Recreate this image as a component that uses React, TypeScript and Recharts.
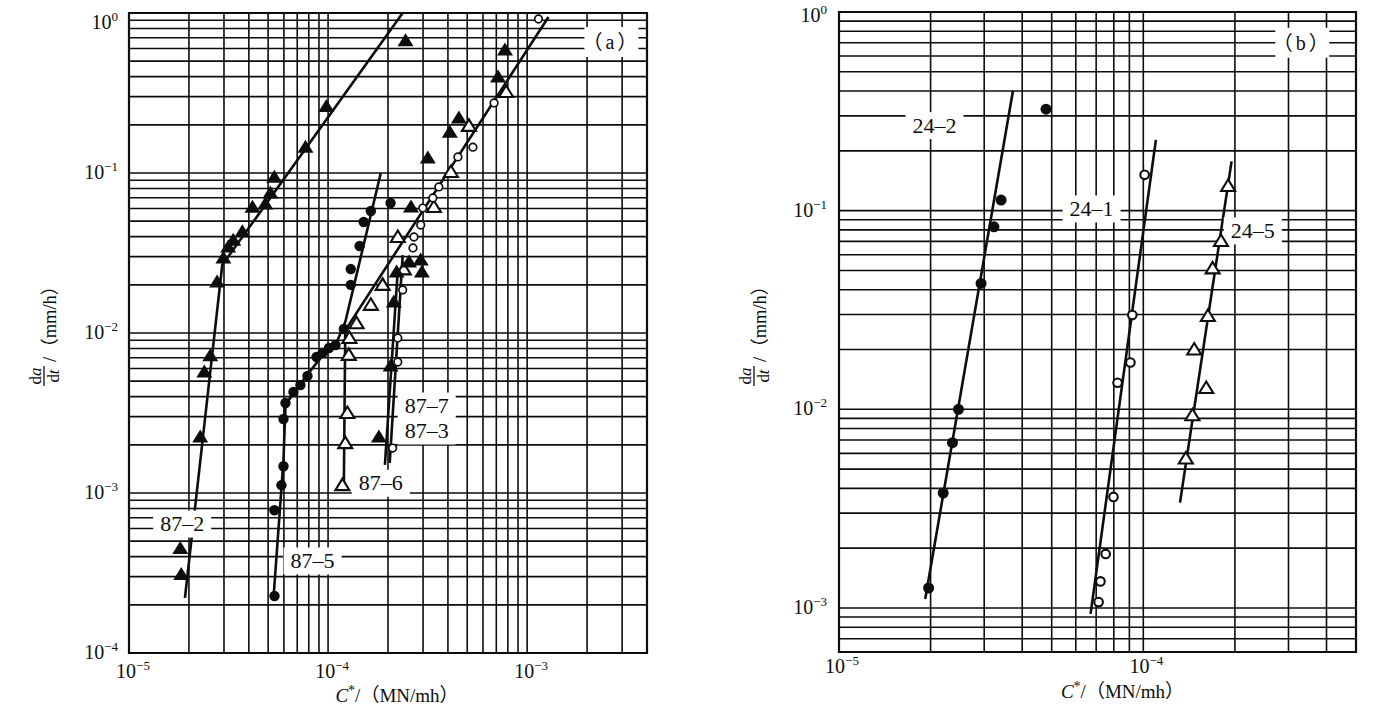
import {
  ScatterChart,
  Scatter,
  XAxis,
  YAxis,
  CartesianGrid,
  ReferenceArea,
  ReferenceDot,
} from 'recharts'

const INK = '#0d0d0d'
const SERIF = "'Liberation Serif', 'Noto Sans CJK SC', serif"

type Pair = [number, number]

// ---- axes (log grids) ----
const A_X_TICKS = [
  1e-5, 2e-5, 3e-5, 4e-5, 5e-5, 6e-5, 7e-5, 8e-5, 9e-5,
  1e-4, 2e-4, 3e-4, 4e-4, 5e-4, 6e-4, 7e-4, 8e-4, 9e-4,
  1e-3, 2e-3, 3e-3, 4e-3,
]
const A_Y_TICKS = [
  1e-4, 2e-4, 3e-4, 4e-4, 5e-4, 6e-4, 7e-4, 8e-4, 9e-4,
  1e-3, 2e-3, 3e-3, 4e-3, 5e-3, 6e-3, 7e-3, 8e-3, 9e-3,
  1e-2, 2e-2, 3e-2, 4e-2, 5e-2, 6e-2, 7e-2, 8e-2, 9e-2,
  0.1, 0.2, 0.3, 0.4, 0.5, 0.6, 0.7, 0.8, 0.9, 1,
]
const B_X_TICKS = [
  1e-5, 2e-5, 3e-5, 4e-5, 5e-5, 6e-5, 7e-5, 8e-5, 9e-5,
  1e-4, 2e-4, 3e-4, 4e-4, 5e-4,
]
const B_Y_TICKS = [
  6e-4, 7e-4, 8e-4, 9e-4,
  1e-3, 2e-3, 3e-3, 4e-3, 5e-3, 6e-3, 7e-3, 8e-3, 9e-3,
  1e-2, 2e-2, 3e-2, 4e-2, 5e-2, 6e-2, 7e-2, 8e-2, 9e-2,
  0.1, 0.2, 0.3, 0.4, 0.5, 0.6, 0.7, 0.8, 0.9, 1,
]

// ---- panel (a) ----
const A87_2_PTS: Pair[] = [
  [1.81e-5, 4.5e-4], [1.83e-5, 3.1e-4], [2.28e-5, 2.24e-3], [2.39e-5, 5.7e-3],
  [2.56e-5, 7.2e-3], [2.77e-5, 2.08e-2], [2.98e-5, 2.94e-2], [3.15e-5, 3.45e-2],
  [3.34e-5, 3.8e-2], [3.71e-5, 4.3e-2], [4.17e-5, 6.1e-2], [4.84e-5, 6.4e-2],
  [5.13e-5, 7.5e-2], [5.37e-5, 9.4e-2], [7.7e-5, 0.145], [9.8e-5, 0.26],
  [2.45e-4, 0.67],
]
const A87_2_LINE: Pair[] = [[1.91e-5, 2.21e-4], [2.94e-5, 2.66e-2], [2.37e-4, 1.0]]

const A87_5_PTS: Pair[] = [
  [5.38e-5, 2.27e-4], [5.38e-5, 7.8e-4], [5.83e-5, 1.12e-3], [5.97e-5, 1.47e-3],
  [5.97e-5, 2.9e-3], [6.11e-5, 3.65e-3], [6.7e-5, 4.28e-3], [7.26e-5, 4.73e-3],
  [7.88e-5, 5.39e-3], [8.75e-5, 7.08e-3], [9.38e-5, 7.5e-3], [1.01e-4, 8.06e-3],
  [1.09e-4, 8.41e-3], [1.2e-4, 1.06e-2], [1.3e-4, 2.0e-2], [1.3e-4, 2.51e-2],
  [1.44e-4, 3.5e-2], [1.51e-4, 4.94e-2], [1.64e-4, 5.79e-2], [2.06e-4, 6.49e-2],
]
const A87_5_LINE: Pair[] = [
  [5.31e-5, 2.14e-4], [5.97e-5, 1.61e-3], [6.11e-5, 3.55e-3], [6.86e-5, 4.4e-3],
  [9.16e-5, 6.98e-3], [1.09e-4, 8.41e-3], [1.22e-4, 1.17e-2], [1.84e-4, 0.1],
]

const A87_6_PTS: Pair[] = [
  [1.18e-4, 1.12e-3], [1.22e-4, 2.05e-3], [1.25e-4, 3.16e-3], [1.27e-4, 7.3e-3],
  [1.28e-4, 9.3e-3], [1.39e-4, 1.15e-2], [1.64e-4, 1.5e-2], [1.88e-4, 2.0e-2],
  [2.24e-4, 3.98e-2], [2.4e-4, 2.5e-2], [3.4e-4, 6.13e-2], [4.14e-4, 0.1015],
  [5.1e-4, 0.197], [7.84e-4, 0.321],
]
const A87_6_LINE: Pair[] = [[1.2e-4, 1.09e-3], [1.22e-4, 1.04e-2], [1.28e-3, 0.944]]

const A87_3_PTS: Pair[] = [
  [2.11e-4, 1.91e-3], [2.24e-4, 6.59e-3], [2.24e-4, 9.3e-3], [2.37e-4, 1.86e-2],
  [2.67e-4, 3.4e-2], [2.7e-4, 3.98e-2], [2.92e-4, 4.73e-2], [2.99e-4, 6.04e-2],
  [3.36e-4, 6.98e-2], [3.6e-4, 8.18e-2], [4.49e-4, 0.126], [5.34e-4, 0.145],
  [6.82e-4, 0.274], [1.14e-3, 0.917],
]
const A87_3_LINE: Pair[] = [[2.04e-4, 1.54e-3], [2.37e-4, 3.07e-2]]

const A87_7_PTS: Pair[] = [
  [1.8e-4, 2.24e-3], [2.06e-4, 6.22e-3], [2.14e-4, 1.56e-2], [2.21e-4, 2.41e-2],
  [2.55e-4, 2.78e-2], [2.92e-4, 2.86e-2], [2.96e-4, 2.41e-2], [2.61e-4, 6.13e-2],
  [3.17e-4, 0.124], [4.09e-4, 0.18], [4.54e-4, 0.221], [7.14e-4, 0.398],
  [7.74e-4, 0.587],
]
const A87_7_LINE: Pair[] = [[1.93e-4, 1.5e-3], [2.24e-4, 2.48e-2]]

const A_LABELS = [
  { x: 1.85e-5, y: 6.4e-4, text: '87–2' },
  { x: 8.36e-5, y: 3.76e-4, text: '87–5' },
  { x: 1.84e-4, y: 1.15e-3, text: '87–6' },
  { x: 3.13e-4, y: 3.5e-3, text: '87–7' },
  { x: 3.13e-4, y: 2.44e-3, text: '87–3' },
  { x: 2.65e-3, y: 0.659, text: '（a）' },
]

// ---- panel (b) ----
const B24_2_PTS: Pair[] = [
  [1.97e-5, 1.26e-3], [2.2e-5, 3.79e-3], [2.36e-5, 6.79e-3], [2.47e-5, 1.0e-2],
  [2.93e-5, 4.3e-2], [3.23e-5, 8.29e-2], [3.41e-5, 0.113], [4.79e-5, 0.324],
]
const B24_2_LINE: Pair[] = [[1.92e-5, 1.11e-3], [3.73e-5, 0.401]]

const B24_1_PTS: Pair[] = [
  [1.01e-4, 0.1515], [9.2e-5, 2.98e-2], [9.07e-5, 1.72e-2], [8.23e-5, 1.36e-2],
  [7.98e-5, 3.62e-3], [7.52e-5, 1.87e-3], [7.23e-5, 1.36e-3], [7.13e-5, 1.07e-3],
]
const B24_1_LINE: Pair[] = [[6.71e-5, 9.34e-4], [1.1e-4, 0.227]]

const B24_5_PTS: Pair[] = [
  [1.9e-4, 0.133], [1.8e-4, 7.03e-2], [1.69e-4, 5.12e-2], [1.63e-4, 2.95e-2],
  [1.47e-4, 2.0e-2], [1.61e-4, 1.28e-2], [1.45e-4, 9.34e-3], [1.38e-4, 5.65e-3],
]
const B24_5_LINE: Pair[] = [[1.32e-4, 3.39e-3], [1.95e-4, 0.177]]

const B_LABELS = [
  { x: 2.06e-5, y: 0.268, text: '24–2' },
  { x: 6.76e-5, y: 0.102, text: '24–1' },
  { x: 2.29e-4, y: 7.91e-2, text: '24–5' },
  { x: 3.33e-4, y: 0.7, text: '（b）' },
]

const pts = (arr: Pair[]) => arr.map(([x, y]) => ({ x, y }))

// ---- marks ----
const filledTri = (p: any) => (
  <polygon
    points={`${p.cx},${p.cy - 7.5} ${p.cx - 8},${p.cy + 5.5} ${p.cx + 8},${p.cy + 5.5}`}
    fill={INK}
  />
)
const openTri = (p: any) => (
  <polygon
    points={`${p.cx},${p.cy - 6.5} ${p.cx - 7},${p.cy + 5} ${p.cx + 7},${p.cy + 5}`}
    fill="#fff"
    stroke={INK}
    strokeWidth={2.1}
  />
)
const dot = (r: number) => (p: any) => <circle cx={p.cx} cy={p.cy} r={r} fill={INK} />
const ring = (r: number, w: number) => (p: any) => (
  <circle cx={p.cx} cy={p.cy} r={r} fill="#fff" stroke={INK} strokeWidth={w} />
)
const noDot = () => <g />

const labelShape = (text: string) => (p: any) => {
  const panel = text.startsWith('（')
  const w = panel ? 54 : 58
  const h = panel ? 30 : 27
  return (
    <g>
      <rect x={p.cx - w / 2} y={p.cy - h / 2} width={w} height={h} fill="#fff" />
      <text
        x={p.cx}
        y={p.cy + 7}
        textAnchor="middle"
        fontFamily={SERIF}
        fontSize={panel ? 20 : 22}
        letterSpacing={panel ? 3 : 0}
        fill={INK}
      >
        {text}
      </text>
    </g>
  )
}

// ---- axis ticks and titles ----
function isDecade(v: number) {
  const l = Math.log10(v)
  return Math.abs(l - Math.round(l)) < 1e-6
}
function expText(v: number) {
  const e = Math.round(Math.log10(v))
  return e === 0 ? '0' : '\u2212' + Math.abs(e)
}

const makeXTick = (dx: number, dy: number) => (props: any) => {
  const { x, y, payload } = props
  if (!isDecade(payload.value)) return <g />
  return (
    <text x={x + dx} y={y + dy} textAnchor="middle" fontFamily={SERIF} fontSize={20} fill={INK}>
      10
      <tspan dy={-8} fontSize={13}>
        {expText(payload.value)}
      </tspan>
    </text>
  )
}

const makeYTick = (topShift: number) => (props: any) => {
  const { x, y, payload } = props
  if (!isDecade(payload.value)) return <g />
  const shift = payload.value === 1 ? topShift : 0
  return (
    <text x={x} y={y + 6 + shift} textAnchor="end" fontFamily={SERIF} fontSize={20} fill={INK}>
      10
      <tspan dy={-8} fontSize={13}>
        {expText(payload.value)}
      </tspan>
    </text>
  )
}

const yTitle = (dy: number) => (props: any) => {
  const vb = props.viewBox
  const bx = vb.x + vb.width - 85
  const by = vb.y + dy
  return (
    <g transform={`translate(${bx},${by}) rotate(-90)`} fill={INK} fontFamily={SERIF}>
      <text x={0} y={-3} textAnchor="middle" fontSize={17}>
        d<tspan fontStyle="italic">a</tspan>
      </text>
      <line x1={-10} x2={10} y1={0} y2={0} stroke={INK} strokeWidth={1.3} />
      <text x={0} y={15} textAnchor="middle" fontSize={17}>
        d<tspan fontStyle="italic">t</tspan>
      </text>
      <text x={14} y={12} fontSize={18.5}>
        /（mm/h）
      </text>
    </g>
  )
}

const xTitle = (dx: number, dy: number) => (props: any) => {
  const vb = props.viewBox
  return (
    <text
      x={vb.x + vb.width / 2 + dx}
      y={vb.y + dy}
      textAnchor="middle"
      fontFamily={SERIF}
      fontSize={19}
      fill={INK}
    >
      <tspan fontStyle="italic">C</tspan>
      <tspan dy={-7} fontSize={14}>
        *
      </tspan>
      <tspan dy={7}>/（MN/mh）</tspan>
    </text>
  )
}

const lineStyle = { stroke: INK, strokeWidth: 2.6 }
const GRID_W = 1.6

function PanelA() {
  return (
    <ScatterChart width={690} height={717} margin={{ top: 13, right: 43, bottom: 24, left: 69 }}>
      <CartesianGrid stroke={INK} strokeWidth={GRID_W} />
      <XAxis
        type="number"
        dataKey="x"
        scale="log"
        domain={[1e-5, 4e-3]}
        allowDataOverflow
        ticks={A_X_TICKS}
        interval={0}
        tick={makeXTick(4, 25)}
        tickLine={false}
        axisLine={false}
        tickSize={0}
        tickMargin={0}
        height={40}
        label={xTitle(9, 49)}
      />
      <YAxis
        type="number"
        dataKey="y"
        scale="log"
        domain={[1e-4, 1]}
        allowDataOverflow
        ticks={A_Y_TICKS}
        interval={0}
        tick={makeYTick(10)}
        tickLine={false}
        axisLine={false}
        tickSize={0}
        tickMargin={11}
        width={60}
        label={yTitle(363)}
      />
      <ReferenceArea x1={1e-5} x2={4e-3} y1={1e-4} y2={1} fill="none" stroke={INK} strokeWidth={2.2} />
      <Scatter data={pts(A87_2_LINE)} line={lineStyle} lineType="joint" shape={noDot} isAnimationActive={false} />
      <Scatter data={pts(A87_5_LINE)} line={lineStyle} lineType="joint" shape={noDot} isAnimationActive={false} />
      <Scatter data={pts(A87_6_LINE)} line={lineStyle} lineType="joint" shape={noDot} isAnimationActive={false} />
      <Scatter data={pts(A87_7_LINE)} line={lineStyle} lineType="joint" shape={noDot} isAnimationActive={false} />
      <Scatter data={pts(A87_3_LINE)} line={lineStyle} lineType="joint" shape={noDot} isAnimationActive={false} />
      {A_LABELS.map((l) => (
        <ReferenceDot key={l.text} x={l.x} y={l.y} r={0} shape={labelShape(l.text)} />
      ))}
      <Scatter data={pts(A87_2_PTS)} shape={filledTri} isAnimationActive={false} />
      <Scatter data={pts(A87_5_PTS)} shape={dot(5.2)} isAnimationActive={false} />
      <Scatter data={pts(A87_6_PTS)} shape={openTri} isAnimationActive={false} />
      <Scatter data={pts(A87_7_PTS)} shape={filledTri} isAnimationActive={false} />
      <Scatter data={pts(A87_3_PTS)} shape={ring(3.8, 1.7)} isAnimationActive={false} />
    </ScatterChart>
  )
}

function PanelB() {
  return (
    <ScatterChart width={690} height={717} margin={{ top: 12, right: 24, bottom: 25, left: 89 }}>
      <CartesianGrid stroke={INK} strokeWidth={GRID_W} />
      <XAxis
        type="number"
        dataKey="x"
        scale="log"
        domain={[1e-5, 5e-4]}
        allowDataOverflow
        ticks={B_X_TICKS}
        interval={0}
        tick={makeXTick(3, 21)}
        tickLine={false}
        axisLine={false}
        tickSize={0}
        tickMargin={0}
        height={40}
        label={xTitle(25, 46)}
      />
      <YAxis
        type="number"
        dataKey="y"
        scale="log"
        domain={[6e-4, 1]}
        allowDataOverflow
        ticks={B_Y_TICKS}
        interval={0}
        tick={makeYTick(4)}
        tickLine={false}
        axisLine={false}
        tickSize={0}
        tickMargin={12}
        width={60}
        label={yTitle(364)}
      />
      <ReferenceArea x1={1e-5} x2={5e-4} y1={6e-4} y2={1} fill="none" stroke={INK} strokeWidth={2.2} />
      <Scatter data={pts(B24_2_LINE)} line={lineStyle} lineType="joint" shape={noDot} isAnimationActive={false} />
      <Scatter data={pts(B24_1_LINE)} line={lineStyle} lineType="joint" shape={noDot} isAnimationActive={false} />
      <Scatter data={pts(B24_5_LINE)} line={lineStyle} lineType="joint" shape={noDot} isAnimationActive={false} />
      {B_LABELS.map((l) => (
        <ReferenceDot key={l.text} x={l.x} y={l.y} r={0} shape={labelShape(l.text)} />
      ))}
      <Scatter data={pts(B24_2_PTS)} shape={dot(5.5)} isAnimationActive={false} />
      <Scatter data={pts(B24_1_PTS)} shape={ring(4.3, 2.1)} isAnimationActive={false} />
      <Scatter data={pts(B24_5_PTS)} shape={openTri} isAnimationActive={false} />
    </ScatterChart>
  )
}

export default function App() {
  return (
    <div style={{ position: 'absolute', left: 0, top: 0, width: 1380, height: 717, background: '#fff' }}>
      <div style={{ position: 'absolute', left: 0, top: 0 }}>
        <PanelA />
      </div>
      <div style={{ position: 'absolute', left: 690, top: 0 }}>
        <PanelB />
      </div>
    </div>
  )
}
